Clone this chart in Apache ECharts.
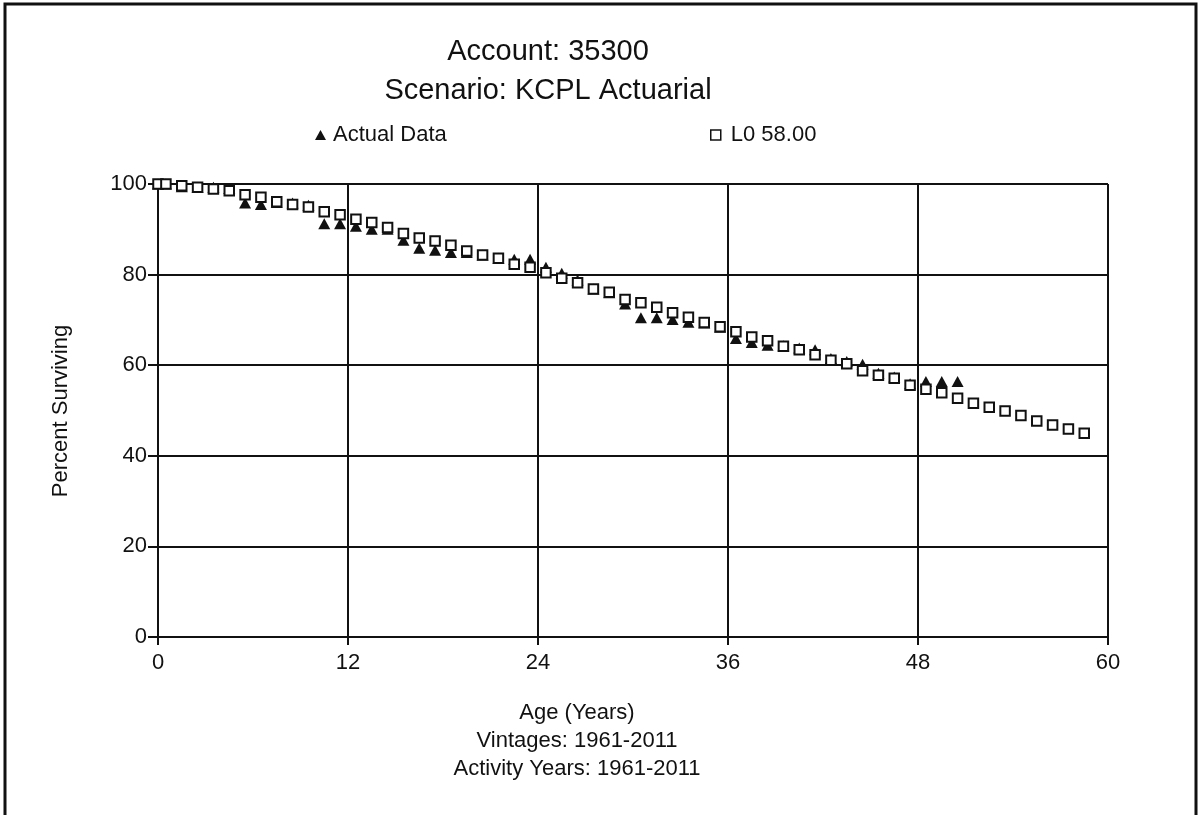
<!DOCTYPE html>
<html>
<head>
<meta charset="utf-8">
<title>Account 35300 – Percent Surviving</title>
<script src="https://cdn.jsdelivr.net/npm/echarts@6/dist/echarts.min.js"></script>
<style>
  html, body { margin: 0; padding: 0; background: #fff; }
  #chart { width: 1201px; height: 815px; }
</style>
</head>
<body>
<div id="chart"></div>
<script>
// Heading and caption text
const titleLines = ['Account: 35300', 'Scenario: KCPL Actuarial'];
const xCaptionLines = ['Age (Years)', 'Vintages: 1961-2011', 'Activity Years: 1961-2011'];
const yCaption = 'Percent Surviving';
const seriesNames = ['Actual Data', 'L0 58.00'];

// Observed survivorship (age in years, percent surviving)
const actualAges = [0, 0.5, 1.5, 2.5, 3.5, 4.5, 5.5, 6.5, 7.5, 8.5, 9.5, 10.5, 11.5, 12.5, 13.5, 14.5,
  15.5, 16.5, 17.5, 18.5, 19.5, 20.5, 21.5, 22.5, 23.5, 24.5, 25.5, 26.5, 27.5, 28.5, 29.5, 30.5,
  31.5, 32.5, 33.5, 34.5, 35.5, 36.5, 37.5, 38.5, 39.5, 40.5, 41.5, 42.5, 43.5, 44.5, 45.5, 46.5,
  47.5, 48.5, 49.5, 50.5];
const actualPct = [100, 100, 99.4, 99.3, 99.3, 99.0, 95.8, 95.5, 95.9, 95.8, 95.3, 91.2, 91.2, 90.7, 90.0, 90.0,
  87.6, 85.8, 85.4, 84.9, 84.9, 84.3, 83.6, 83.4, 83.4, 81.6, 80.3, 78.8, 76.8, 76.0, 73.5, 70.5,
  70.5, 70.1, 69.5, 69.3, 68.4, 65.9, 65.0, 64.4, 64.3, 63.8, 63.4, 61.5, 60.8, 60.2, 58.2, 57.4,
  55.9, 56.4, 56.4, 56.4];

// Fitted Iowa L0 curve, 58-year average life
const curveAges = [0, 0.5, 1.5, 2.5, 3.5, 4.5, 5.5, 6.5, 7.5, 8.5, 9.5, 10.5, 11.5, 12.5, 13.5, 14.5,
  15.5, 16.5, 17.5, 18.5, 19.5, 20.5, 21.5, 22.5, 23.5, 24.5, 25.5, 26.5, 27.5, 28.5, 29.5, 30.5,
  31.5, 32.5, 33.5, 34.5, 35.5, 36.5, 37.5, 38.5, 39.5, 40.5, 41.5, 42.5, 43.5, 44.5, 45.5, 46.5,
  47.5, 48.5, 49.5, 50.5, 51.5, 52.5, 53.5, 54.5, 55.5, 56.5, 57.5, 58.5];
const curvePct = [100, 100, 99.6, 99.3, 98.9, 98.5, 97.6, 97.1, 96.1, 95.5, 94.9, 93.9, 93.2, 92.2, 91.5, 90.4,
  89.1, 88.1, 87.4, 86.5, 85.2, 84.3, 83.6, 82.3, 81.6, 80.4, 79.2, 78.2, 76.8, 76.1, 74.5, 73.8,
  72.8, 71.6, 70.6, 69.4, 68.5, 67.4, 66.2, 65.4, 64.2, 63.4, 62.3, 61.1, 60.3, 58.8, 57.8, 57.1,
  55.6, 54.7, 53.9, 52.7, 51.6, 50.7, 49.9, 48.9, 47.7, 46.8, 45.9, 45.0];

// Axis ranges
const xRange = { min: 0, max: 60, interval: 12 };
const yRange = { min: 0, max: 100, interval: 20 };

const FONT = '"Liberation Sans", Arial, sans-serif';
const INK = '#111';

function pairs(xs, ys) { return xs.map((x, i) => [x, ys[i]]); }

function caption(text, x, y, size, extra) {
  return Object.assign({
    type: 'text', x: x, y: y, silent: true,
    style: { text: text, fontSize: size, fontFamily: FONT, fill: INK, align: 'center', verticalAlign: 'middle' }
  }, extra || {});
}

const chart = echarts.init(document.getElementById('chart'), null, { renderer: 'canvas' });

chart.setOption({
  animation: false,
  backgroundColor: '#fff',
  grid: { left: 158, top: 184, width: 950, height: 453, containLabel: false },
  legend: [
    {
      data: [{ name: seriesNames[0], icon: 'triangle', itemStyle: { color: INK } }],
      left: 315, top: 124, padding: 0, itemWidth: 11, itemHeight: 10, selectedMode: false,
      textStyle: { fontSize: 22, fontFamily: FONT, color: INK, padding: [0, 0, 0, 2] }
    },
    {
      data: [{ name: seriesNames[1], icon: 'rect', itemStyle: { color: '#fff', borderColor: INK, borderWidth: 1.5 } }],
      left: 710, top: 124, padding: 0, itemWidth: 10, itemHeight: 10, selectedMode: false,
      textStyle: { fontSize: 22, fontFamily: FONT, color: INK, padding: [0, 0, 0, 5] }
    }
  ],
  xAxis: {
    type: 'value', min: xRange.min, max: xRange.max, interval: xRange.interval,
    axisLine: { show: true, onZero: false, lineStyle: { color: INK, width: 2 } },
    axisTick: { show: true, length: 8, lineStyle: { color: INK, width: 2 } },
    axisLabel: { fontSize: 22, fontFamily: FONT, color: INK, margin: 15 },
    splitLine: { show: true, lineStyle: { color: INK, width: 2 } }
  },
  yAxis: {
    type: 'value', min: yRange.min, max: yRange.max, interval: yRange.interval,
    axisLine: { show: true, lineStyle: { color: INK, width: 2 } },
    axisTick: { show: true, length: 10, lineStyle: { color: INK, width: 2 } },
    axisLabel: { fontSize: 22, fontFamily: FONT, color: INK, margin: 11 },
    splitLine: { show: true, lineStyle: { color: INK, width: 2 } }
  },
  series: [
    {
      name: seriesNames[0], type: 'scatter', z: 2,
      symbol: 'triangle', symbolSize: [12, 11],
      itemStyle: { color: INK, opacity: 1 },
      data: pairs(actualAges, actualPct)
    },
    {
      name: seriesNames[1], type: 'scatter', z: 3,
      symbol: 'rect', symbolSize: 9.5,
      itemStyle: { color: '#fff', borderColor: INK, borderWidth: 2, opacity: 1 },
      data: pairs(curveAges, curvePct)
    }
  ],
  graphic: [
    // frame around the whole figure
    { type: 'rect', silent: true, shape: { x: 5, y: 4, width: 1191, height: 840 },
      style: { fill: 'transparent', stroke: INK, lineWidth: 3 } },
    caption(titleLines[0], 548, 52, 29),
    caption(titleLines[1], 548, 91, 29),
    caption(xCaptionLines[0], 577, 713, 22),
    caption(xCaptionLines[1], 577, 741, 22),
    caption(xCaptionLines[2], 577, 769, 22),
    caption(yCaption, 61, 411, 22, { rotation: Math.PI / 2 })
  ]
});
</script>
</body>
</html>
